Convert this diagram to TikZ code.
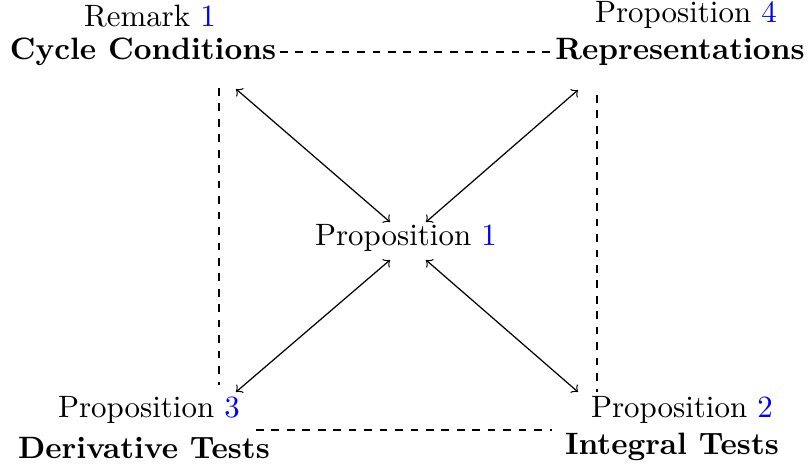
\documentclass[tikz,border=0pt]{standalone}
\usepackage{amsmath, amssymb}
\usepackage{xcolor}
\usepackage{tikz}

\begin{document}
\begin{tikzpicture}[x=0.3236pt,y=-0.3236pt,
    every node/.style={inner sep=1pt},
    link/.style={<->,>=to},
    dashlink/.style={dash pattern=on 2.5pt off 2.5pt}]
    \useasboundingbox (0,0) rectangle (808,470);

    % Remark 1
    \node (rem) at (150,16) {Remark \textcolor{blue}{1}};
    \node (cyc) at (143,52) {\textbf{Cycle Conditions}};

    % Proposition 4
    \node (prop4) at (686,15) {Proposition \textcolor{blue}{4}};
    \node (rep) at (680,52) {\textbf{Representations}};

    % Proposition 1
    \node (prop1) at (406,238) {Proposition \textcolor{blue}{1}};

    % Proposition 3
    \node (prop3) at (149,410) {Proposition \textcolor{blue}{3}};
    \node (der) at (144,448) {\textbf{Derivative Tests}};

    % Proposition 2
    \node (prop2) at (682,410) {Proposition \textcolor{blue}{2}};
    \node (intg) at (672,447) {\textbf{Integral Tests}};

    % arrow ends
    \coordinate (cycA) at (236,89);
    \coordinate (repA) at (578,90);
    \coordinate (derA) at (236,392);
    \coordinate (intgA) at (578,392);
    \coordinate (p1nw) at (390,222);
    \coordinate (p1ne) at (426,222);
    \coordinate (p1sw) at (390,260);
    \coordinate (p1se) at (426,260);

    \draw[link] (cycA) -- (p1nw);
    \draw[link] (repA) -- (p1ne);
    \draw[link] (derA) -- (p1sw);
    \draw[link] (intgA) -- (p1se);

    % dashed frame
    \coordinate (lt) at (219,88);
    \coordinate (lb) at (219,385);
    \coordinate (rt) at (597,95);
    \coordinate (rb) at (597,392);
    \coordinate (bl) at (256,430);
    \coordinate (br) at (552,430);

    \draw[dashlink] (cyc.east) -- (rep.west);
    \draw[dashlink] (bl) -- (br);
    \draw[dashlink] (lt) -- (lb);
    \draw[dashlink] (rt) -- (rb);
\end{tikzpicture}
\end{document}
